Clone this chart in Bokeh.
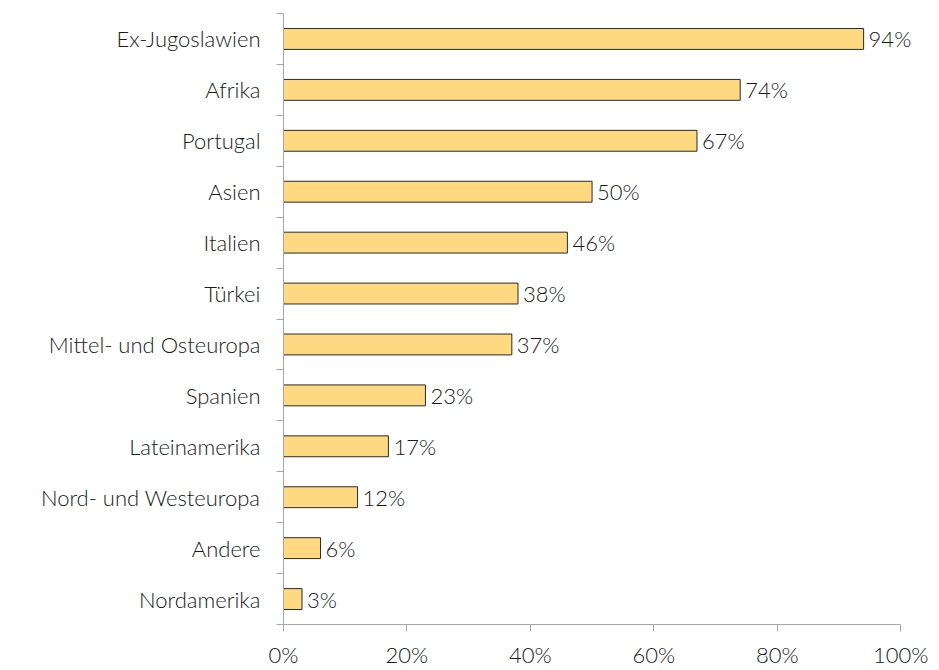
from bokeh.plotting import figure
from bokeh.models import ColumnDataSource, FixedTicker, Range1d, NumeralTickFormatter
from bokeh.core.properties import value
from bokeh.embed import file_html
from bokeh.resources import INLINE

categories = ["Ex-Jugoslawien", "Afrika", "Portugal", "Asien", "Italien", "Türkei",
              "Mittel- und Osteuropa", "Spanien", "Lateinamerika", "Nord- und Westeuropa",
              "Andere", "Nordamerika"]
values = [94, 74, 67, 50, 46, 38, 37, 23, 17, 12, 6, 3]
x_ticks = [0, 20, 40, 60, 80, 100]

n = len(categories)
ypos = [n - i for i in range(n)]  # top category highest
src = ColumnDataSource(dict(y=ypos, v=[v / 100 for v in values], lab=[f"{v}%" for v in values], cat=categories))

FONT = "'Lato Light', Lato"
FS = "22px"
TXT = "#1a1a1a"
p = figure(width=931, height=670, output_backend="svg", toolbar_location=None,
           x_range=Range1d(0, 1.05), y_range=Range1d(0.5, n + 0.5),
           min_border_left=283, min_border_right=0, min_border_top=13, min_border_bottom=44)
p.outline_line_color = None
p.grid.visible = False
p.background_fill_color = "white"

p.hbar(y="y", right="v", left=0, height=0.41, source=src,
       fill_color="#FFD982", line_color="#2a2a2a", line_width=1)
p.text(x="v", y="y", text="lab", source=src, x_offset=5, text_baseline="middle",
       text_align="left", text_font=value(FONT), text_font_size=FS, text_color=TXT)

axcol = "#A6A6A6"
p.xaxis.ticker = FixedTicker(ticks=[t / 100 for t in x_ticks])
p.xaxis.bounds = (0, 1)
p.xaxis.formatter = NumeralTickFormatter(format="0%")
p.xaxis.axis_line_color = axcol
p.xaxis.major_tick_line_color = axcol
p.xaxis.major_tick_out = 7
p.xaxis.major_tick_in = 0
p.xaxis.minor_tick_line_color = None
p.xaxis.major_label_text_font = FONT
p.xaxis.major_label_text_font_size = FS
p.xaxis.major_label_text_color = TXT
p.xaxis.major_label_standoff = 9

p.yaxis.ticker = FixedTicker(ticks=ypos, minor_ticks=[k + 0.5 for k in range(n + 1)])
p.yaxis.major_label_overrides = {y: c for y, c in zip(ypos, categories)}
p.yaxis.axis_line_color = axcol
p.yaxis.major_tick_line_color = None
p.yaxis.major_tick_out = 0
p.yaxis.major_tick_in = 0
p.yaxis.minor_tick_line_color = axcol
p.yaxis.minor_tick_out = 7
p.yaxis.minor_tick_in = 0
p.yaxis.major_label_text_font = FONT
p.yaxis.major_label_text_font_size = FS
p.yaxis.major_label_text_color = TXT
p.yaxis.major_label_standoff = 16

open("out.html", "w").write(file_html(p, INLINE))
